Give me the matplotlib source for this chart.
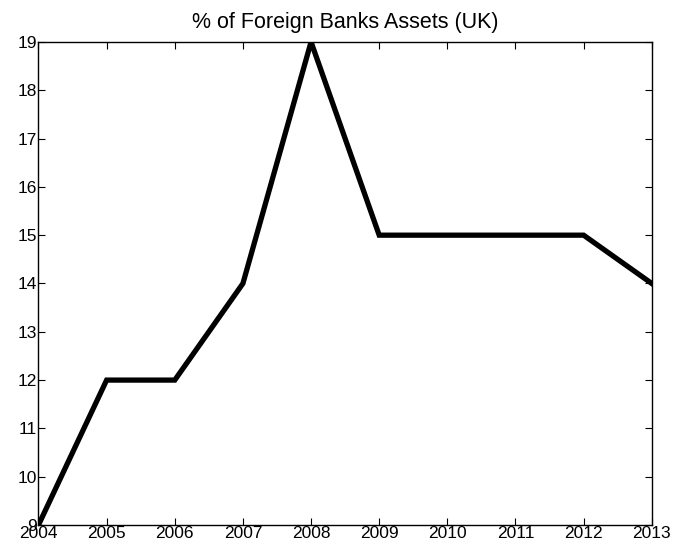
import matplotlib
matplotlib.use("Agg")
import matplotlib.pyplot as plt

years = [2004, 2005, 2006, 2007, 2008, 2009, 2010, 2011, 2012, 2013]
share = [9, 12, 12, 14, 19, 15, 15, 15, 15, 14]
yticks = list(range(9, 20))

plt.rcParams['font.family'] = ['Liberation Sans', 'DejaVu Sans']
fig = plt.figure(figsize=(6.74, 5.52), dpi=100)
ax = fig.add_axes([0.0571, 0.0489, 0.967 - 0.0571, 0.924 - 0.0489])
ax.plot(years, share, color='black', linewidth=3.8, solid_joinstyle='miter')
ax.set_xlim(2004, 2013)
ax.set_ylim(9, 19)
ax.set_xticks(years)
ax.set_yticks(yticks)
ax.tick_params(direction='in', top=True, right=True, length=5, width=0.8,
               labelsize=12.5, pad=1)
for s in ax.spines.values():
    s.set_linewidth(1.0)
ax.set_title('% of Foreign Banks Assets (UK)', fontsize=15.5, pad=10)
fig.savefig('out.png', dpi=100)
